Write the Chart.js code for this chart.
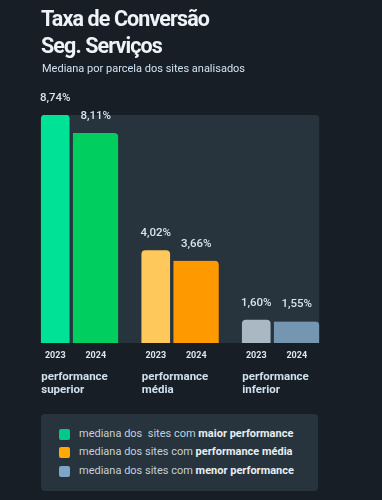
<!DOCTYPE html>
<html>
<head>
<meta charset="utf-8">
<script src="https://cdn.jsdelivr.net/npm/chart.js@4"></script>
<style>
  html, body { margin: 0; padding: 0; background: #181e25; }
  body { width: 382px; height: 500px; position: relative; overflow: hidden; font-family: Roboto, "Noto Sans", sans-serif; }
  #wrap { position: absolute; left: 0; top: 0; width: 382px; height: 500px; }
  .title { position: absolute; left: 41px; top: 5px; color: #eef3f7; font-weight: 700; font-size: 21.5px; line-height: 27px; letter-spacing: -0.9px; }
  .sub { position: absolute; left: 42px; top: 62px; color: #cfe2f3; font-size: 11px; }
  .legend { position: absolute; left: 41px; top: 414px; width: 277px; height: 77px; background: #27333d; border-radius: 4px; }
  .legend div { position: absolute; left: 38px; font-size: 11px; color: #c5d1db; white-space: nowrap; }
  .legend b { color: #e8eef3; font-weight: 700; }
  .legend span { position: absolute; left: -20px; top: 2px; width: 11px; height: 11px; border-radius: 2px; }
</style>
</head>
<body>
<div id="wrap"><canvas id="chart" width="382" height="500"></canvas></div>
<div class="title">Taxa de Conversão<br>Seg. Serviços</div>
<div class="sub">Mediana por parcela dos sites analisados</div>
<div class="legend">
  <div style="top:13px"><span style="background:#00c98a"></span>mediana dos&nbsp; sites com <b>maior performance</b></div>
  <div style="top:31px"><span style="background:#ffaa00"></span>mediana dos sites com <b>performance média</b></div>
  <div style="top:50px"><span style="background:#7ea6c8"></span>mediana dos sites com <b>menor performance</b></div>
</div>
<script>
const groups = [['performance', 'superior'], ['performance', 'média'], ['performance', 'inferior']];
const years = ['2023', '2024'];
const values2023 = [8.74, 4.02, 1.60];
const values2024 = [8.11, 3.66, 1.55];
const colors2023 = ['#00e396', '#ffc85a', '#a9b8c3'];
const colors2024 = ['#00cf5f', '#ff9900', '#7496b1'];

const panelColor = '#27333d';
const fmt = v => v.toFixed(2).replace('.', ',') + '%';

// background panel behind the bars + labels
const decor = {
  id: 'decor',
  beforeDatasetsDraw(chart) {
    const { ctx, chartArea } = chart;
    const first = chart.getDatasetMeta(0).data[0];
    const last = chart.getDatasetMeta(1).data[2];
    const x1 = first.x - first.width / 2;
    const x2 = last.x + last.width / 2;
    ctx.save();
    ctx.fillStyle = panelColor;
    ctx.beginPath();
    ctx.roundRect(x1, chartArea.top, x2 - x1, chartArea.bottom - chartArea.top, 4);
    ctx.fill();
    ctx.restore();
  },
  afterDatasetsDraw(chart) {
    const { ctx, chartArea } = chart;
    ctx.save();
    ctx.textAlign = 'center';
    ctx.textBaseline = 'middle';
    chart.data.datasets.forEach((ds, di) => {
      const meta = chart.getDatasetMeta(di);
      meta.data.forEach((bar, i) => {
        const inset = di === 1 ? 2 : 0;
        ctx.fillStyle = '#d6e3ee';
        ctx.font = '500 11.5px Roboto, sans-serif';
        ctx.fillText(fmt(ds.data[i]), bar.x + inset, bar.y - 17);
        ctx.fillStyle = '#dde7ef';
        ctx.font = '700 9px Roboto, sans-serif';
        ctx.fillText(ds.label, bar.x + inset, chartArea.bottom + 13);
      });
    });
    // group names
    const meta0 = chart.getDatasetMeta(0);
    ctx.textAlign = 'left';
    ctx.fillStyle = '#cfe0ee';
    ctx.font = '700 11.5px Roboto, sans-serif';
    meta0.data.forEach((bar, i) => {
      const x = bar.x - bar.width / 2;
      groups[i].forEach((line, k) => ctx.fillText(line, x, chartArea.bottom + 34 + k * 13.5));
    });
    ctx.restore();
  }
};

new Chart(document.getElementById('chart').getContext('2d'), {
  type: 'bar',
  data: {
    labels: groups,
    datasets: [
      {
        label: years[0],
        data: values2023,
        backgroundColor: colors2023,
        barThickness: 28,
        borderRadius: 4,
        borderSkipped: false
      },
      {
        label: years[1],
        data: values2024,
        backgroundColor: colors2024,
        barThickness: 49,
        borderRadius: 4,
        borderSkipped: false,
        borderWidth: { left: 4, right: 0, top: 0, bottom: 0 },
        borderColor: panelColor
      }
    ]
  },
  options: {
    responsive: false,
    animation: false,
    layout: { padding: { left: 19, right: 61.5, top: 115, bottom: 157 } },
    plugins: { legend: { display: false }, tooltip: { enabled: false } },
    scales: {
      x: { display: false },
      y: { display: false, min: 0.8, max: 8.74 }
    }
  },
  plugins: [decor]
});
</script>
</body>
</html>
